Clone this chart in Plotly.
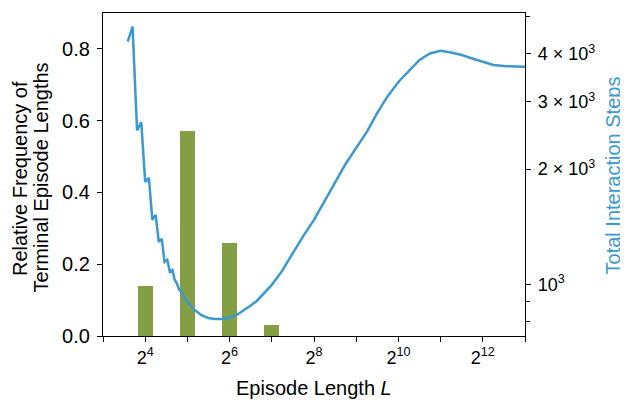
import numpy as np
import plotly.graph_objects as go

# Bar data: relative frequency of terminal episode lengths
bar_L = [16, 32, 64, 128]
bar_freq = [0.14, 0.57, 0.26, 0.03]

# Line data: total interaction steps vs episode length L
line_L = [12, 13, 14, 15, 16, 17, 18, 19, 20, 21, 22, 23, 24, 25, 26, 27, 28, 29, 30, 32,
          36, 40, 45, 50, 56, 64, 72, 80, 90, 100, 112, 128, 150, 181, 215, 256, 300, 362,
          430, 512, 610, 724, 861, 1024, 1218, 1448, 1722, 2048, 2435, 2896, 3444, 4096,
          4871, 5793, 6889, 8192]
line_steps = [4309, 4716, 2524, 2649, 1851, 1896, 1473, 1517, 1290, 1313, 1144, 1158, 1077, 1090,
              1026, 1002, 966, 955, 932, 899,
              857, 831, 816, 811, 811, 816, 831, 852, 878, 904, 943, 996, 1077, 1207, 1338, 1473,
              1631, 1851, 2063, 2272, 2502, 2805, 3108, 3380, 3612, 3859, 4012, 4080, 4036, 3976,
              3893, 3812, 3744, 3721, 3715, 3706]

x_major = [4, 6, 8, 10, 12]
x_minor = [3, 5, 7, 9, 11, 13]
y_ticks = [0, 0.2, 0.4, 0.6, 0.8]
y_tick_text = ["0.0", "0.2", "0.4", "0.6", "0.8"]
y2_major = [1000, 2000, 3000, 4000]
y2_major_text = ["10<sup>3</sup>", "2 × 10<sup>3</sup>", "3 × 10<sup>3</sup>", "4 × 10<sup>3</sup>"]
y2_minor = [800, 900, 5000]

left_title_lines = ["Relative Frequency of", "Terminal Episode Lengths"]
x_title = "Episode Length <i>L</i>"
y2_title = "Total Interaction Steps"

blue = "#3b99d1"
green = "#849e43"
font = "Liberation Sans, Arial, sans-serif"

fig = go.Figure()
fig.add_trace(go.Bar(x=np.log2(bar_L), y=bar_freq, width=0.35,
                     marker=dict(color=green, line=dict(width=0)), yaxis="y", showlegend=False))
fig.add_trace(go.Scatter(x=np.log2(line_L), y=line_steps, mode="lines",
                         line=dict(color=blue, width=2.5), yaxis="y2", showlegend=False))

axis_common = dict(showline=True, linecolor="black", linewidth=1.3, ticks="outside", tickcolor="black",
                   tickwidth=1.3, showgrid=False, zeroline=False, automargin=False)

fig.update_layout(
    width=620, height=392,
    margin=dict(l=95, r=103, t=5, b=64),
    plot_bgcolor="white", paper_bgcolor="white",
    font=dict(family=font, color="black"),
    bargap=0,
    xaxis=dict(range=[3, 13], tickmode="array", tickvals=x_major,
               ticktext=[f"2<sup>{v}</sup>" for v in x_major], ticklen=5, mirror=True,
               tickfont=dict(size=18, color="black", family=font),
               minor=dict(tickmode="array", tickvals=x_minor, ticklen=5, ticks="outside",
                          tickcolor="black", tickwidth=1.3),
               **axis_common),
    yaxis=dict(range=[0, 0.9], tickmode="array", tickvals=y_ticks, ticktext=y_tick_text, ticklen=5,
               tickfont=dict(size=20, color="black", family=font), ticklabelstandoff=3,
               **axis_common),
    yaxis2=dict(overlaying="y", side="right", type="log",
                range=[np.log10(732), np.log10(5120)], tickmode="array", tickvals=y2_major,
                ticktext=y2_major_text, ticklen=5, ticklabelstandoff=3,
                tickfont=dict(size=18, color="black", family=font),
                minor=dict(tickmode="array", tickvals=y2_minor, ticklen=3.5, ticks="outside",
                           tickcolor="black", tickwidth=1.3),
                **axis_common),
)

ann_font = dict(size=20, family=font, color="black")
fig.add_annotation(text=left_title_lines[0], xref="paper", yref="paper", x=-0.1967, y=0.489,
                   xanchor="center", yanchor="middle", textangle=-90, showarrow=False, font=ann_font)
fig.add_annotation(text=left_title_lines[1], xref="paper", yref="paper", x=-0.1457, y=0.489,
                   xanchor="center", yanchor="middle", textangle=-90, showarrow=False, font=ann_font)
fig.add_annotation(text=y2_title, xref="paper", yref="paper", x=1.2078, y=0.496,
                   xanchor="center", yanchor="middle", textangle=-90, showarrow=False,
                   font=dict(size=20, family=font, color=blue))
fig.add_annotation(text=x_title, xref="paper", yref="paper", x=0.5, y=-0.161,
                   xanchor="center", yanchor="middle", showarrow=False, font=ann_font)

fig.write_html("out.html")
